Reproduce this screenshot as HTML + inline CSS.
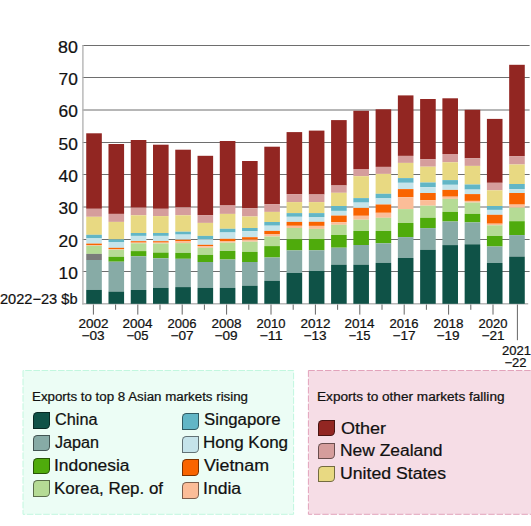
<!DOCTYPE html>
<html><head><meta charset="utf-8">
<style>
html,body{margin:0;padding:0;background:#fff;}
body{width:531px;height:526px;position:relative;overflow:hidden;font-family:"Liberation Sans",sans-serif;}
svg{position:absolute;left:0;top:0;z-index:2;}
svg text{font-family:"Liberation Sans",sans-serif;fill:#111;stroke:#111;stroke-width:0.22px;}
.box{position:absolute;box-sizing:border-box;z-index:1;}
.g{left:22.5px;top:370px;width:271.5px;height:145px;background:#effdf6;border:1px dashed #b5f0d6;}
.p{left:308px;top:370px;width:240px;height:145px;background:#f7dde5;border:1px dashed #e39bb5;}
.sw{position:absolute;z-index:3;box-sizing:border-box;width:17px;height:16.6px;border:1px solid rgba(0,0,0,0.5);border-radius:4.5px 0 4.5px 0;}
</style></head><body>

<svg width="531" height="526" viewBox="0 0 531 526">
<rect x="23" y="370.5" width="270.6" height="143.8" fill="#ecfdf5"/>
<path d="M23,370.5 V514.3 H293.6 V370.5 Z" fill="none" stroke="#c2f7df" stroke-width="1" stroke-dasharray="6.6 1.6"/>
<rect x="308.4" y="370.5" width="240" height="143.8" fill="#f6dde6"/>
<path d="M308.4,370.5 V514.3 H548 M308.4,370.5 H548" fill="none" stroke="#e2a3bb" stroke-width="1" stroke-dasharray="6.4 1.9"/>
<line x1="82.5" x2="529.6" y1="271.5" y2="271.5" stroke="#6e6e6e" stroke-width="1"/>
<line x1="82.5" x2="529.6" y1="239.5" y2="239.5" stroke="#6e6e6e" stroke-width="1"/>
<line x1="82.5" x2="529.6" y1="207" y2="207" stroke="#6e6e6e" stroke-width="1"/>
<line x1="82.5" x2="529.6" y1="174.5" y2="174.5" stroke="#6e6e6e" stroke-width="1"/>
<line x1="82.5" x2="529.6" y1="142.5" y2="142.5" stroke="#6e6e6e" stroke-width="1"/>
<line x1="82.5" x2="529.6" y1="110" y2="110" stroke="#6e6e6e" stroke-width="1"/>
<line x1="82.5" x2="529.6" y1="77.5" y2="77.5" stroke="#6e6e6e" stroke-width="1"/>
<line x1="82.5" x2="529.6" y1="45.5" y2="45.5" stroke="#6e6e6e" stroke-width="1"/>
<line x1="82.9" x2="82.9" y1="45" y2="304.5" stroke="#b4b4b4" stroke-width="1.4"/>
<line x1="82.2" x2="528.2" y1="303.75" y2="303.75" stroke="#b8b8b8" stroke-width="1.5"/>
<rect x="86.23" y="133.3" width="15.6" height="75.5" fill="#922622"/>
<rect x="86.23" y="208.8" width="15.6" height="8" fill="#d59d9c"/>
<rect x="86.23" y="216.8" width="15.6" height="18" fill="#e8d982"/>
<rect x="86.23" y="234.8" width="15.6" height="3.6" fill="#62b6c6"/>
<rect x="86.23" y="238.4" width="15.6" height="5.2" fill="#c5e4ea"/>
<rect x="86.23" y="243.6" width="15.6" height="1.4" fill="#f96400"/>
<rect x="86.23" y="245" width="15.6" height="0.8" fill="#fbbd98"/>
<rect x="86.23" y="245.8" width="15.6" height="8.1" fill="#b5db95"/>
<rect x="86.23" y="253.9" width="15.6" height="6.1" fill="#7b7b7b"/>
<rect x="86.23" y="260" width="15.6" height="29.9" fill="#87aba6"/>
<rect x="86.23" y="289.9" width="15.6" height="13.9" fill="#0f5247"/>
<rect x="108.49" y="144" width="15.6" height="69.9" fill="#922622"/>
<rect x="108.49" y="213.9" width="15.6" height="8" fill="#d59d9c"/>
<rect x="108.49" y="221.9" width="15.6" height="17.5" fill="#e8d982"/>
<rect x="108.49" y="239.4" width="15.6" height="2.6" fill="#62b6c6"/>
<rect x="108.49" y="242" width="15.6" height="5.8" fill="#c5e4ea"/>
<rect x="108.49" y="247.8" width="15.6" height="1.2" fill="#f96400"/>
<rect x="108.49" y="249" width="15.6" height="0.8" fill="#fbbd98"/>
<rect x="108.49" y="249.8" width="15.6" height="7" fill="#b5db95"/>
<rect x="108.49" y="256.8" width="15.6" height="4.9" fill="#4fab0c"/>
<rect x="108.49" y="261.7" width="15.6" height="29.9" fill="#87aba6"/>
<rect x="108.49" y="291.6" width="15.6" height="12.2" fill="#0f5247"/>
<rect x="130.75" y="140" width="15.6" height="67.7" fill="#922622"/>
<rect x="130.75" y="207.7" width="15.6" height="7.6" fill="#d59d9c"/>
<rect x="130.75" y="215.3" width="15.6" height="17.7" fill="#e8d982"/>
<rect x="130.75" y="233" width="15.6" height="2.9" fill="#62b6c6"/>
<rect x="130.75" y="235.9" width="15.6" height="5.3" fill="#c5e4ea"/>
<rect x="130.75" y="241.2" width="15.6" height="1.4" fill="#f96400"/>
<rect x="130.75" y="242.6" width="15.6" height="0.7" fill="#fbbd98"/>
<rect x="130.75" y="243.3" width="15.6" height="7.8" fill="#b5db95"/>
<rect x="130.75" y="251.1" width="15.6" height="5.2" fill="#4fab0c"/>
<rect x="130.75" y="256.3" width="15.6" height="33.7" fill="#87aba6"/>
<rect x="130.75" y="290" width="15.6" height="13.8" fill="#0f5247"/>
<rect x="153.01" y="144.7" width="15.6" height="64.1" fill="#922622"/>
<rect x="153.01" y="208.8" width="15.6" height="7.3" fill="#d59d9c"/>
<rect x="153.01" y="216.1" width="15.6" height="16.9" fill="#e8d982"/>
<rect x="153.01" y="233" width="15.6" height="2.9" fill="#62b6c6"/>
<rect x="153.01" y="235.9" width="15.6" height="5.3" fill="#c5e4ea"/>
<rect x="153.01" y="241.2" width="15.6" height="1.4" fill="#f96400"/>
<rect x="153.01" y="242.6" width="15.6" height="0.9" fill="#fbbd98"/>
<rect x="153.01" y="243.5" width="15.6" height="9.1" fill="#b5db95"/>
<rect x="153.01" y="252.6" width="15.6" height="5.7" fill="#4fab0c"/>
<rect x="153.01" y="258.3" width="15.6" height="29.6" fill="#87aba6"/>
<rect x="153.01" y="287.9" width="15.6" height="15.9" fill="#0f5247"/>
<rect x="175.27" y="149.7" width="15.6" height="57.8" fill="#922622"/>
<rect x="175.27" y="207.5" width="15.6" height="7.8" fill="#d59d9c"/>
<rect x="175.27" y="215.3" width="15.6" height="16.4" fill="#e8d982"/>
<rect x="175.27" y="231.7" width="15.6" height="2.9" fill="#62b6c6"/>
<rect x="175.27" y="234.6" width="15.6" height="5.1" fill="#c5e4ea"/>
<rect x="175.27" y="239.7" width="15.6" height="1.7" fill="#f96400"/>
<rect x="175.27" y="241.4" width="15.6" height="1.7" fill="#fbbd98"/>
<rect x="175.27" y="243.1" width="15.6" height="9.8" fill="#b5db95"/>
<rect x="175.27" y="252.9" width="15.6" height="5.9" fill="#4fab0c"/>
<rect x="175.27" y="258.8" width="15.6" height="28.3" fill="#87aba6"/>
<rect x="175.27" y="287.1" width="15.6" height="16.7" fill="#0f5247"/>
<rect x="197.53" y="155.8" width="15.6" height="59.3" fill="#922622"/>
<rect x="197.53" y="215.1" width="15.6" height="7.8" fill="#d59d9c"/>
<rect x="197.53" y="222.9" width="15.6" height="13" fill="#e8d982"/>
<rect x="197.53" y="235.9" width="15.6" height="3.4" fill="#62b6c6"/>
<rect x="197.53" y="239.3" width="15.6" height="5.5" fill="#c5e4ea"/>
<rect x="197.53" y="244.8" width="15.6" height="1.3" fill="#f96400"/>
<rect x="197.53" y="246.1" width="15.6" height="1.7" fill="#fbbd98"/>
<rect x="197.53" y="247.8" width="15.6" height="7.1" fill="#b5db95"/>
<rect x="197.53" y="254.9" width="15.6" height="7.1" fill="#4fab0c"/>
<rect x="197.53" y="262" width="15.6" height="25.9" fill="#87aba6"/>
<rect x="197.53" y="287.9" width="15.6" height="15.9" fill="#0f5247"/>
<rect x="219.79" y="141" width="15.6" height="64.5" fill="#922622"/>
<rect x="219.79" y="205.5" width="15.6" height="8.4" fill="#d59d9c"/>
<rect x="219.79" y="213.9" width="15.6" height="14.9" fill="#e8d982"/>
<rect x="219.79" y="228.8" width="15.6" height="3.7" fill="#62b6c6"/>
<rect x="219.79" y="232.5" width="15.6" height="6.3" fill="#c5e4ea"/>
<rect x="219.79" y="238.8" width="15.6" height="2.2" fill="#f96400"/>
<rect x="219.79" y="241" width="15.6" height="1.7" fill="#fbbd98"/>
<rect x="219.79" y="242.7" width="15.6" height="8.3" fill="#b5db95"/>
<rect x="219.79" y="251" width="15.6" height="8.5" fill="#4fab0c"/>
<rect x="219.79" y="259.5" width="15.6" height="28.4" fill="#87aba6"/>
<rect x="219.79" y="287.9" width="15.6" height="15.9" fill="#0f5247"/>
<rect x="242.05" y="161" width="15.6" height="47.3" fill="#922622"/>
<rect x="242.05" y="208.3" width="15.6" height="8.2" fill="#d59d9c"/>
<rect x="242.05" y="216.5" width="15.6" height="11.5" fill="#e8d982"/>
<rect x="242.05" y="228" width="15.6" height="3.3" fill="#62b6c6"/>
<rect x="242.05" y="231.3" width="15.6" height="5.9" fill="#c5e4ea"/>
<rect x="242.05" y="237.2" width="15.6" height="2.5" fill="#f96400"/>
<rect x="242.05" y="239.7" width="15.6" height="2" fill="#fbbd98"/>
<rect x="242.05" y="241.7" width="15.6" height="10.2" fill="#b5db95"/>
<rect x="242.05" y="251.9" width="15.6" height="10.1" fill="#4fab0c"/>
<rect x="242.05" y="262" width="15.6" height="23.7" fill="#87aba6"/>
<rect x="242.05" y="285.7" width="15.6" height="18.1" fill="#0f5247"/>
<rect x="264.31" y="146.7" width="15.6" height="57.4" fill="#922622"/>
<rect x="264.31" y="204.1" width="15.6" height="7.8" fill="#d59d9c"/>
<rect x="264.31" y="211.9" width="15.6" height="10.1" fill="#e8d982"/>
<rect x="264.31" y="222" width="15.6" height="3.7" fill="#62b6c6"/>
<rect x="264.31" y="225.7" width="15.6" height="5.2" fill="#c5e4ea"/>
<rect x="264.31" y="230.9" width="15.6" height="3.1" fill="#f96400"/>
<rect x="264.31" y="234" width="15.6" height="2.5" fill="#fbbd98"/>
<rect x="264.31" y="236.5" width="15.6" height="9.6" fill="#b5db95"/>
<rect x="264.31" y="246.1" width="15.6" height="11.4" fill="#4fab0c"/>
<rect x="264.31" y="257.5" width="15.6" height="23.3" fill="#87aba6"/>
<rect x="264.31" y="280.8" width="15.6" height="23" fill="#0f5247"/>
<rect x="286.57" y="132.1" width="15.6" height="62" fill="#922622"/>
<rect x="286.57" y="194.1" width="15.6" height="8" fill="#d59d9c"/>
<rect x="286.57" y="202.1" width="15.6" height="11" fill="#e8d982"/>
<rect x="286.57" y="213.1" width="15.6" height="3.7" fill="#62b6c6"/>
<rect x="286.57" y="216.8" width="15.6" height="5.1" fill="#c5e4ea"/>
<rect x="286.57" y="221.9" width="15.6" height="3.9" fill="#f96400"/>
<rect x="286.57" y="225.8" width="15.6" height="2.2" fill="#fbbd98"/>
<rect x="286.57" y="228" width="15.6" height="11.2" fill="#b5db95"/>
<rect x="286.57" y="239.2" width="15.6" height="11.2" fill="#4fab0c"/>
<rect x="286.57" y="250.4" width="15.6" height="22.6" fill="#87aba6"/>
<rect x="286.57" y="273" width="15.6" height="30.8" fill="#0f5247"/>
<rect x="308.83" y="130.6" width="15.6" height="63.9" fill="#922622"/>
<rect x="308.83" y="194.5" width="15.6" height="7.6" fill="#d59d9c"/>
<rect x="308.83" y="202.1" width="15.6" height="11" fill="#e8d982"/>
<rect x="308.83" y="213.1" width="15.6" height="3.9" fill="#62b6c6"/>
<rect x="308.83" y="217" width="15.6" height="4.8" fill="#c5e4ea"/>
<rect x="308.83" y="221.8" width="15.6" height="4.1" fill="#f96400"/>
<rect x="308.83" y="225.9" width="15.6" height="3" fill="#fbbd98"/>
<rect x="308.83" y="228.9" width="15.6" height="10.1" fill="#b5db95"/>
<rect x="308.83" y="239" width="15.6" height="11.3" fill="#4fab0c"/>
<rect x="308.83" y="250.3" width="15.6" height="20.7" fill="#87aba6"/>
<rect x="308.83" y="271" width="15.6" height="32.8" fill="#0f5247"/>
<rect x="331.09" y="120.1" width="15.6" height="65.4" fill="#922622"/>
<rect x="331.09" y="185.5" width="15.6" height="7.3" fill="#d59d9c"/>
<rect x="331.09" y="192.8" width="15.6" height="13.2" fill="#e8d982"/>
<rect x="331.09" y="206" width="15.6" height="4.9" fill="#62b6c6"/>
<rect x="331.09" y="210.9" width="15.6" height="4.7" fill="#c5e4ea"/>
<rect x="331.09" y="215.6" width="15.6" height="6.6" fill="#f96400"/>
<rect x="331.09" y="222.2" width="15.6" height="2.6" fill="#fbbd98"/>
<rect x="331.09" y="224.8" width="15.6" height="10.2" fill="#b5db95"/>
<rect x="331.09" y="235" width="15.6" height="12.7" fill="#4fab0c"/>
<rect x="331.09" y="247.7" width="15.6" height="17" fill="#87aba6"/>
<rect x="331.09" y="264.7" width="15.6" height="39.1" fill="#0f5247"/>
<rect x="353.35" y="110.8" width="15.6" height="58.2" fill="#922622"/>
<rect x="353.35" y="169" width="15.6" height="7.2" fill="#d59d9c"/>
<rect x="353.35" y="176.2" width="15.6" height="21.9" fill="#e8d982"/>
<rect x="353.35" y="198.1" width="15.6" height="4.5" fill="#62b6c6"/>
<rect x="353.35" y="202.6" width="15.6" height="5.3" fill="#c5e4ea"/>
<rect x="353.35" y="207.9" width="15.6" height="7.9" fill="#f96400"/>
<rect x="353.35" y="215.8" width="15.6" height="3.9" fill="#fbbd98"/>
<rect x="353.35" y="219.7" width="15.6" height="11.3" fill="#b5db95"/>
<rect x="353.35" y="231" width="15.6" height="14" fill="#4fab0c"/>
<rect x="353.35" y="245" width="15.6" height="19.7" fill="#87aba6"/>
<rect x="353.35" y="264.7" width="15.6" height="39.1" fill="#0f5247"/>
<rect x="375.61" y="109.3" width="15.6" height="57.6" fill="#922622"/>
<rect x="375.61" y="166.9" width="15.6" height="7" fill="#d59d9c"/>
<rect x="375.61" y="173.9" width="15.6" height="19.9" fill="#e8d982"/>
<rect x="375.61" y="193.8" width="15.6" height="4.6" fill="#62b6c6"/>
<rect x="375.61" y="198.4" width="15.6" height="6.1" fill="#c5e4ea"/>
<rect x="375.61" y="204.5" width="15.6" height="8.3" fill="#f96400"/>
<rect x="375.61" y="212.8" width="15.6" height="5" fill="#fbbd98"/>
<rect x="375.61" y="217.8" width="15.6" height="13.2" fill="#b5db95"/>
<rect x="375.61" y="231" width="15.6" height="12.3" fill="#4fab0c"/>
<rect x="375.61" y="243.3" width="15.6" height="19.6" fill="#87aba6"/>
<rect x="375.61" y="262.9" width="15.6" height="40.9" fill="#0f5247"/>
<rect x="397.87" y="95.4" width="15.6" height="60.5" fill="#922622"/>
<rect x="397.87" y="155.9" width="15.6" height="7" fill="#d59d9c"/>
<rect x="397.87" y="162.9" width="15.6" height="15.2" fill="#e8d982"/>
<rect x="397.87" y="178.1" width="15.6" height="4.7" fill="#62b6c6"/>
<rect x="397.87" y="182.8" width="15.6" height="6.3" fill="#c5e4ea"/>
<rect x="397.87" y="189.1" width="15.6" height="8.1" fill="#f96400"/>
<rect x="397.87" y="197.2" width="15.6" height="11.9" fill="#fbbd98"/>
<rect x="397.87" y="209.1" width="15.6" height="13.9" fill="#b5db95"/>
<rect x="397.87" y="223" width="15.6" height="14.1" fill="#4fab0c"/>
<rect x="397.87" y="237.1" width="15.6" height="20.9" fill="#87aba6"/>
<rect x="397.87" y="258" width="15.6" height="45.8" fill="#0f5247"/>
<rect x="420.13" y="99" width="15.6" height="60.3" fill="#922622"/>
<rect x="420.13" y="159.3" width="15.6" height="7.4" fill="#d59d9c"/>
<rect x="420.13" y="166.7" width="15.6" height="15.8" fill="#e8d982"/>
<rect x="420.13" y="182.5" width="15.6" height="4.6" fill="#62b6c6"/>
<rect x="420.13" y="187.1" width="15.6" height="5.9" fill="#c5e4ea"/>
<rect x="420.13" y="193" width="15.6" height="7.3" fill="#f96400"/>
<rect x="420.13" y="200.3" width="15.6" height="5.4" fill="#fbbd98"/>
<rect x="420.13" y="205.7" width="15.6" height="12.1" fill="#b5db95"/>
<rect x="420.13" y="217.8" width="15.6" height="10.3" fill="#4fab0c"/>
<rect x="420.13" y="228.1" width="15.6" height="21.7" fill="#87aba6"/>
<rect x="420.13" y="249.8" width="15.6" height="54" fill="#0f5247"/>
<rect x="442.39" y="98.3" width="15.6" height="55.7" fill="#922622"/>
<rect x="442.39" y="154" width="15.6" height="8.3" fill="#d59d9c"/>
<rect x="442.39" y="162.3" width="15.6" height="17.8" fill="#e8d982"/>
<rect x="442.39" y="180.1" width="15.6" height="4.7" fill="#62b6c6"/>
<rect x="442.39" y="184.8" width="15.6" height="5.1" fill="#c5e4ea"/>
<rect x="442.39" y="189.9" width="15.6" height="6.8" fill="#f96400"/>
<rect x="442.39" y="196.7" width="15.6" height="2.2" fill="#fbbd98"/>
<rect x="442.39" y="198.9" width="15.6" height="13" fill="#b5db95"/>
<rect x="442.39" y="211.9" width="15.6" height="9.6" fill="#4fab0c"/>
<rect x="442.39" y="221.5" width="15.6" height="23.6" fill="#87aba6"/>
<rect x="442.39" y="245.1" width="15.6" height="58.7" fill="#0f5247"/>
<rect x="464.65" y="109.8" width="15.6" height="48.5" fill="#922622"/>
<rect x="464.65" y="158.3" width="15.6" height="7.6" fill="#d59d9c"/>
<rect x="464.65" y="165.9" width="15.6" height="18.6" fill="#e8d982"/>
<rect x="464.65" y="184.5" width="15.6" height="5.1" fill="#62b6c6"/>
<rect x="464.65" y="189.6" width="15.6" height="4.5" fill="#c5e4ea"/>
<rect x="464.65" y="194.1" width="15.6" height="6.8" fill="#f96400"/>
<rect x="464.65" y="200.9" width="15.6" height="1.7" fill="#fbbd98"/>
<rect x="464.65" y="202.6" width="15.6" height="11.3" fill="#b5db95"/>
<rect x="464.65" y="213.9" width="15.6" height="8.5" fill="#4fab0c"/>
<rect x="464.65" y="222.4" width="15.6" height="21.9" fill="#87aba6"/>
<rect x="464.65" y="244.3" width="15.6" height="59.5" fill="#0f5247"/>
<rect x="486.91" y="118.9" width="15.6" height="63.9" fill="#922622"/>
<rect x="486.91" y="182.8" width="15.6" height="7.5" fill="#d59d9c"/>
<rect x="486.91" y="190.3" width="15.6" height="15.7" fill="#e8d982"/>
<rect x="486.91" y="206" width="15.6" height="3.9" fill="#62b6c6"/>
<rect x="486.91" y="209.9" width="15.6" height="4.9" fill="#c5e4ea"/>
<rect x="486.91" y="214.8" width="15.6" height="8.9" fill="#f96400"/>
<rect x="486.91" y="223.7" width="15.6" height="1.6" fill="#fbbd98"/>
<rect x="486.91" y="225.3" width="15.6" height="10.7" fill="#b5db95"/>
<rect x="486.91" y="236" width="15.6" height="10.5" fill="#4fab0c"/>
<rect x="486.91" y="246.5" width="15.6" height="16.5" fill="#87aba6"/>
<rect x="486.91" y="263" width="15.6" height="40.8" fill="#0f5247"/>
<rect x="509.17" y="64.8" width="15.6" height="91.3" fill="#922622"/>
<rect x="509.17" y="156.1" width="15.6" height="8.4" fill="#d59d9c"/>
<rect x="509.17" y="164.5" width="15.6" height="19.5" fill="#e8d982"/>
<rect x="509.17" y="184" width="15.6" height="5.1" fill="#62b6c6"/>
<rect x="509.17" y="189.1" width="15.6" height="3.9" fill="#c5e4ea"/>
<rect x="509.17" y="193" width="15.6" height="11.6" fill="#f96400"/>
<rect x="509.17" y="204.6" width="15.6" height="3.1" fill="#fbbd98"/>
<rect x="509.17" y="207.7" width="15.6" height="13.5" fill="#b5db95"/>
<rect x="509.17" y="221.2" width="15.6" height="13.9" fill="#4fab0c"/>
<rect x="509.17" y="235.1" width="15.6" height="21.5" fill="#87aba6"/>
<rect x="509.17" y="256.6" width="15.6" height="47.2" fill="#0f5247"/>
<line x1="93.4" x2="93.4" y1="304.5" y2="314.6" stroke="#666" stroke-width="1"/>
<line x1="115.6" x2="115.6" y1="304.5" y2="309.8" stroke="#666" stroke-width="1"/>
<line x1="137.8" x2="137.8" y1="304.5" y2="314.6" stroke="#666" stroke-width="1"/>
<line x1="160" x2="160" y1="304.5" y2="309.8" stroke="#666" stroke-width="1"/>
<line x1="182.2" x2="182.2" y1="304.5" y2="314.6" stroke="#666" stroke-width="1"/>
<line x1="204.4" x2="204.4" y1="304.5" y2="309.8" stroke="#666" stroke-width="1"/>
<line x1="226.6" x2="226.6" y1="304.5" y2="314.6" stroke="#666" stroke-width="1"/>
<line x1="248.8" x2="248.8" y1="304.5" y2="309.8" stroke="#666" stroke-width="1"/>
<line x1="271" x2="271" y1="304.5" y2="314.6" stroke="#666" stroke-width="1"/>
<line x1="293.2" x2="293.2" y1="304.5" y2="309.8" stroke="#666" stroke-width="1"/>
<line x1="315.4" x2="315.4" y1="304.5" y2="314.6" stroke="#666" stroke-width="1"/>
<line x1="337.6" x2="337.6" y1="304.5" y2="309.8" stroke="#666" stroke-width="1"/>
<line x1="359.8" x2="359.8" y1="304.5" y2="314.6" stroke="#666" stroke-width="1"/>
<line x1="382" x2="382" y1="304.5" y2="309.8" stroke="#666" stroke-width="1"/>
<line x1="404.2" x2="404.2" y1="304.5" y2="314.6" stroke="#666" stroke-width="1"/>
<line x1="426.4" x2="426.4" y1="304.5" y2="309.8" stroke="#666" stroke-width="1"/>
<line x1="448.6" x2="448.6" y1="304.5" y2="314.6" stroke="#666" stroke-width="1"/>
<line x1="470.8" x2="470.8" y1="304.5" y2="309.8" stroke="#666" stroke-width="1"/>
<line x1="493" x2="493" y1="304.5" y2="314.6" stroke="#666" stroke-width="1"/>
<line x1="517.4" x2="517.4" y1="304.5" y2="340.2" stroke="#666" stroke-width="1"/>
<text x="58.5" y="278.85" font-size="16" textLength="19.32" lengthAdjust="spacingAndGlyphs">10</text>
<text x="58.5" y="246.85" font-size="16" textLength="19.26" lengthAdjust="spacingAndGlyphs">20</text>
<text x="58.5" y="214.35" font-size="16" textLength="19.26" lengthAdjust="spacingAndGlyphs">30</text>
<text x="58.5" y="181.85" font-size="16" textLength="19.32" lengthAdjust="spacingAndGlyphs">40</text>
<text x="58.5" y="149.85" font-size="16" textLength="19.26" lengthAdjust="spacingAndGlyphs">50</text>
<text x="58.5" y="117.35" font-size="16" textLength="19.26" lengthAdjust="spacingAndGlyphs">60</text>
<text x="58.5" y="84.85" font-size="16" textLength="19.26" lengthAdjust="spacingAndGlyphs">70</text>
<text x="58" y="52.85" font-size="16" textLength="19.8" lengthAdjust="spacingAndGlyphs">80</text>
<text x="0" y="303.6" font-size="14.5" textLength="77.51" lengthAdjust="spacingAndGlyphs">2022&#8722;23 $b</text>
<text x="78.5" y="327.9" font-size="12.4" textLength="30.04" lengthAdjust="spacingAndGlyphs">2002</text>
<text x="81.5" y="339.8" font-size="12.4" textLength="23.05" lengthAdjust="spacingAndGlyphs">&#8722;03</text>
<text x="122.5" y="327.9" font-size="12.4" textLength="30.04" lengthAdjust="spacingAndGlyphs">2004</text>
<text x="126.5" y="339.8" font-size="12.4" textLength="22.05" lengthAdjust="spacingAndGlyphs">&#8722;05</text>
<text x="167.5" y="327.9" font-size="12.4" textLength="29.03" lengthAdjust="spacingAndGlyphs">2006</text>
<text x="170.5" y="339.8" font-size="12.4" textLength="23.05" lengthAdjust="spacingAndGlyphs">&#8722;07</text>
<text x="211.5" y="327.9" font-size="12.4" textLength="30.04" lengthAdjust="spacingAndGlyphs">2008</text>
<text x="214.5" y="339.8" font-size="12.4" textLength="23.05" lengthAdjust="spacingAndGlyphs">&#8722;09</text>
<text x="256.5" y="327.9" font-size="12.4" textLength="29" lengthAdjust="spacingAndGlyphs">2010</text>
<text x="259.5" y="339.8" font-size="12.4" textLength="23.05" lengthAdjust="spacingAndGlyphs">&#8722;11</text>
<text x="300.5" y="327.9" font-size="12.4" textLength="30.04" lengthAdjust="spacingAndGlyphs">2012</text>
<text x="303.5" y="339.8" font-size="12.4" textLength="23.05" lengthAdjust="spacingAndGlyphs">&#8722;13</text>
<text x="344.5" y="327.9" font-size="12.4" textLength="30.04" lengthAdjust="spacingAndGlyphs">2014</text>
<text x="348.5" y="339.8" font-size="12.4" textLength="22.05" lengthAdjust="spacingAndGlyphs">&#8722;15</text>
<text x="389.5" y="327.9" font-size="12.4" textLength="29.03" lengthAdjust="spacingAndGlyphs">2016</text>
<text x="392.5" y="339.8" font-size="12.4" textLength="23.05" lengthAdjust="spacingAndGlyphs">&#8722;17</text>
<text x="433.5" y="327.9" font-size="12.4" textLength="30.04" lengthAdjust="spacingAndGlyphs">2018</text>
<text x="436.5" y="339.8" font-size="12.4" textLength="23.05" lengthAdjust="spacingAndGlyphs">&#8722;19</text>
<text x="478.5" y="327.9" font-size="12.4" textLength="29" lengthAdjust="spacingAndGlyphs">2020</text>
<text x="481.5" y="339.8" font-size="12.4" textLength="23.05" lengthAdjust="spacingAndGlyphs">&#8722;21</text>
<text x="502" y="354.8" font-size="12.4" textLength="29.02" lengthAdjust="spacingAndGlyphs">2021</text>
<text x="504.5" y="366.6" font-size="12.4" textLength="22.01" lengthAdjust="spacingAndGlyphs">&#8722;22</text>
<text x="32" y="401" font-size="12" textLength="216.01" lengthAdjust="spacingAndGlyphs">Exports to top 8 Asian markets rising</text>
<text x="317" y="401" font-size="12" textLength="187.52" lengthAdjust="spacingAndGlyphs">Exports to other markets falling</text>
<text x="55" y="425" font-size="16" textLength="42.5" lengthAdjust="spacingAndGlyphs">China</text>
<text x="55" y="448" font-size="16" textLength="44.01" lengthAdjust="spacingAndGlyphs">Japan</text>
<text x="54" y="471" font-size="16" textLength="75.52" lengthAdjust="spacingAndGlyphs">Indonesia</text>
<text x="54" y="494" font-size="16" textLength="109.01" lengthAdjust="spacingAndGlyphs">Korea, Rep. of</text>
<text x="204" y="425" font-size="16" textLength="76.51" lengthAdjust="spacingAndGlyphs">Singapore</text>
<text x="203" y="448" font-size="16" textLength="85.03" lengthAdjust="spacingAndGlyphs">Hong Kong</text>
<text x="204" y="471" font-size="16" textLength="65.02" lengthAdjust="spacingAndGlyphs">Vietnam</text>
<text x="203" y="494" font-size="16" textLength="38.06" lengthAdjust="spacingAndGlyphs">India</text>
<text x="341" y="434" font-size="16" textLength="45" lengthAdjust="spacingAndGlyphs">Other</text>
<text x="340" y="456" font-size="16" textLength="102.55" lengthAdjust="spacingAndGlyphs">New Zealand</text>
<text x="340" y="479" font-size="16" textLength="106.02" lengthAdjust="spacingAndGlyphs">United States</text>
</svg>
<div class="sw" style="left:32.5px;top:412.2px;background:#0f5247"></div>
<div class="sw" style="left:32.5px;top:434.85px;background:#87aba6"></div>
<div class="sw" style="left:32.5px;top:457.5px;background:#4fab0c"></div>
<div class="sw" style="left:32.5px;top:480.15px;background:#b5db95"></div>
<div class="sw" style="left:182.3px;top:413.3px;background:#62b6c6"></div>
<div class="sw" style="left:182.3px;top:436.3px;background:#c5e4ea"></div>
<div class="sw" style="left:182.3px;top:459.3px;background:#f96400"></div>
<div class="sw" style="left:182.3px;top:482.3px;background:#fbbd98"></div>
<div class="sw" style="left:318.2px;top:419.9px;background:#922622"></div>
<div class="sw" style="left:318.2px;top:442.75px;background:#d59d9c"></div>
<div class="sw" style="left:318.2px;top:465.6px;background:#e8d982"></div>
</body></html>
